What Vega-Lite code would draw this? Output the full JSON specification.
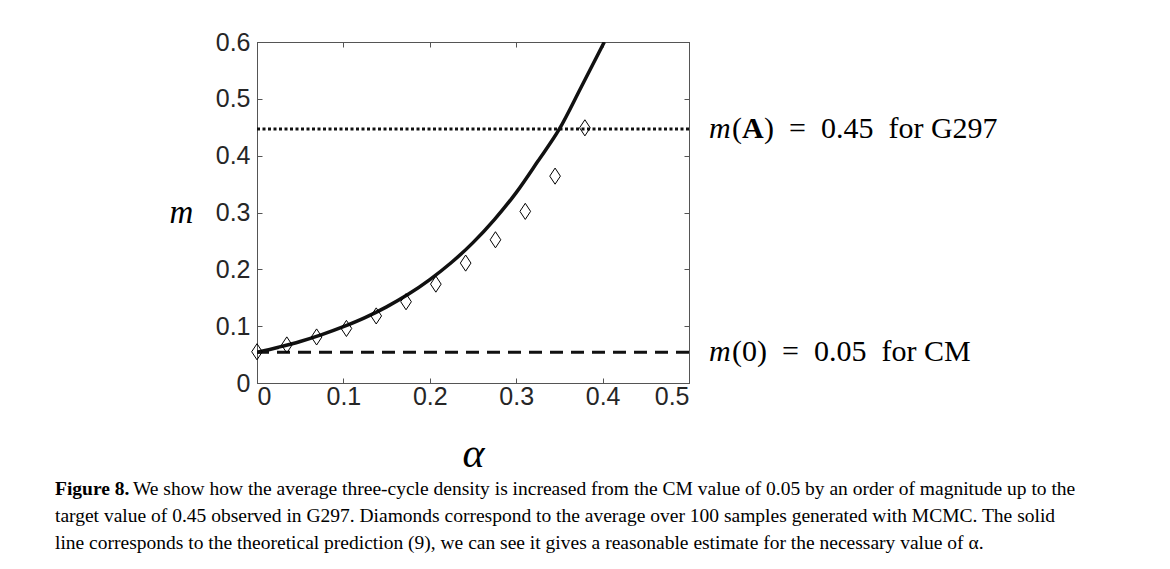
{
  "$schema": "https://vega.github.io/schema/vega-lite/v6.json",
  "width": 432,
  "height": 341,
  "autosize": {"type": "none"},
  "padding": {"left": 257, "top": 42, "right": 481, "bottom": 186},
  "background": "white",
  "config": {
    "view": {"stroke": "#555", "strokeWidth": 1},
    "axis": {
      "grid": false,
      "domainColor": "#555",
      "tickColor": "#555",
      "tickSize": -5,
      "labelFont": "Liberation Sans",
      "labelFontSize": 25,
      "labelColor": "#262626",
      "titleColor": "#000"
    }
  },
  "title": {
    "text": "Figure 8.",
    "subtitle": [
      "\u200b\u00a0\u00a0\u00a0\u00a0\u00a0\u00a0\u00a0\u00a0\u00a0\u00a0\u00a0\u00a0\u00a0\u00a0\u00a0\u00a0We show how the average three-cycle density is increased from the CM value of 0.05 by an order of magnitude up to the",
      "target value of 0.45 observed in G297. Diamonds correspond to the average over 100 samples generated with MCMC. The solid",
      "line corresponds to the theoretical prediction (9), we can see it gives a reasonable estimate for the necessary value of α."
    ],
    "orient": "bottom",
    "anchor": "start",
    "frame": "group",
    "dx": -202,
    "offset": 6,
    "font": "Liberation Serif",
    "fontSize": 19.5,
    "fontWeight": "bold",
    "color": "#000",
    "subtitleFont": "Liberation Serif",
    "subtitleFontSize": 19.5,
    "subtitleColor": "#000",
    "subtitleLineHeight": 27,
    "subtitlePadding": -19.5
  },
  "datasets": {
    "curve": [
      {"alpha": 0.0, "m": 0.054},
      {"alpha": 0.025, "m": 0.063},
      {"alpha": 0.05, "m": 0.073},
      {"alpha": 0.075, "m": 0.085},
      {"alpha": 0.1, "m": 0.099},
      {"alpha": 0.125, "m": 0.115},
      {"alpha": 0.15, "m": 0.134},
      {"alpha": 0.175, "m": 0.156},
      {"alpha": 0.2, "m": 0.182},
      {"alpha": 0.225, "m": 0.212},
      {"alpha": 0.25, "m": 0.247},
      {"alpha": 0.275, "m": 0.288},
      {"alpha": 0.3, "m": 0.335},
      {"alpha": 0.325, "m": 0.39},
      {"alpha": 0.35, "m": 0.447},
      {"alpha": 0.375, "m": 0.52},
      {"alpha": 0.402, "m": 0.6}
    ],
    "samples": [
      {"alpha": 0.0, "m": 0.055},
      {"alpha": 0.0345, "m": 0.067},
      {"alpha": 0.069, "m": 0.081},
      {"alpha": 0.1035, "m": 0.096},
      {"alpha": 0.138, "m": 0.118},
      {"alpha": 0.1725, "m": 0.143},
      {"alpha": 0.207, "m": 0.174},
      {"alpha": 0.2415, "m": 0.211},
      {"alpha": 0.276, "m": 0.252},
      {"alpha": 0.3105, "m": 0.302},
      {"alpha": 0.345, "m": 0.364},
      {"alpha": 0.3795, "m": 0.449}
    ],
    "refs": [
      {"ref": "G297", "m": 0.447},
      {"ref": "CM", "m": 0.054}
    ]
  },
  "layer": [
    {
      "data": {"name": "curve"},
      "mark": {"type": "line", "color": "#111", "strokeWidth": 3.5, "interpolate": "monotone", "clip": true},
      "encoding": {
        "x": {
          "field": "alpha", "type": "quantitative",
          "scale": {"domain": [0, 0.5], "nice": false, "zero": false},
          "axis": {"orient": "bottom", "values": [0, 0.1, 0.2, 0.3, 0.4, 0.5], "format": "~g", "labelPadding": 6,
                   "title": "α", "titleFont": "Liberation Serif", "titleFontStyle": "italic", "titleFontWeight": "normal",
                   "titleFontSize": 42, "titleY": 70, "titleBaseline": "middle"}
        },
        "y": {
          "field": "m", "type": "quantitative",
          "scale": {"domain": [0, 0.6], "nice": false, "zero": false},
          "axis": {"orient": "left", "values": [0, 0.1, 0.2, 0.3, 0.4, 0.5, 0.6], "format": "~g", "labelPadding": 12,
                   "title": "m", "titleFont": "Liberation Serif", "titleFontStyle": "italic", "titleFontWeight": "normal",
                   "titleFontSize": 33, "titleAngle": 0, "titleX": -76, "titleY": 170, "titleAlign": "center", "titleBaseline": "middle"}
        }
      }
    },
    {
      "data": {"name": "refs"},
      "transform": [{"filter": "datum.ref === 'G297'"}],
      "mark": {"type": "rule", "color": "#111", "strokeWidth": 3, "strokeDash": [3, 2.5]},
      "encoding": {"y": {"field": "m", "type": "quantitative", "axis": null}}
    },
    {
      "data": {"name": "refs"},
      "transform": [{"filter": "datum.ref === 'CM'"}],
      "mark": {"type": "rule", "color": "#111", "strokeWidth": 3, "strokeDash": [13, 8]},
      "encoding": {"y": {"field": "m", "type": "quantitative", "axis": null}}
    },
    {
      "data": {"name": "samples"},
      "mark": {"type": "point", "shape": "M0,-1L0.66,0L0,1L-0.66,0Z", "size": 260, "filled": false, "stroke": "#000", "strokeWidth": 1, "opacity": 1},
      "encoding": {
        "x": {"field": "alpha", "type": "quantitative",
              "axis": {"orient": "top", "labels": false, "title": null, "values": [0, 0.1, 0.2, 0.3, 0.4, 0.5]}},
        "y": {"field": "m", "type": "quantitative",
              "axis": {"orient": "right", "labels": false, "title": null, "values": [0, 0.1, 0.2, 0.3, 0.4, 0.5, 0.6]}}
      }
    },
    {
      "data": {"name": "refs"},
      "transform": [{"filter": "datum.ref === 'G297'"}],
      "layer": [
        {"mark": {"type": "text", "text": "m", "align": "left", "baseline": "middle", "font": "Liberation Serif", "fontStyle": "italic", "fontSize": 30, "dx": 20, "color": "#000"}},
        {"mark": {"type": "text", "text": "(", "align": "left", "baseline": "middle", "font": "Liberation Serif", "fontSize": 30, "dx": 43, "color": "#000"}},
        {"mark": {"type": "text", "text": "A", "align": "left", "baseline": "middle", "font": "Liberation Serif", "fontWeight": "bold", "fontSize": 30, "dx": 53, "color": "#000"}},
        {"mark": {"type": "text", "text": ")\u00a0\u00a0=\u00a0\u00a00.45\u00a0\u00a0for G297", "align": "left", "baseline": "middle", "font": "Liberation Serif", "fontSize": 30, "dx": 75, "color": "#000"}}
      ],
      "encoding": {
        "x": {"value": "width"},
        "y": {"field": "m", "type": "quantitative", "axis": null}
      }
    },
    {
      "data": {"name": "refs"},
      "transform": [{"filter": "datum.ref === 'CM'"}],
      "layer": [
        {"mark": {"type": "text", "text": "m", "align": "left", "baseline": "middle", "font": "Liberation Serif", "fontStyle": "italic", "fontSize": 30, "dx": 20, "color": "#000"}},
        {"mark": {"type": "text", "text": "(0)\u00a0\u00a0=\u00a0\u00a00.05\u00a0\u00a0for CM", "align": "left", "baseline": "middle", "font": "Liberation Serif", "fontSize": 30, "dx": 43, "color": "#000"}}
      ],
      "encoding": {
        "x": {"value": "width"},
        "y": {"field": "m", "type": "quantitative", "axis": null}
      }
    }
  ],
  "resolve": {"axis": {"x": "independent", "y": "independent"}}
}
